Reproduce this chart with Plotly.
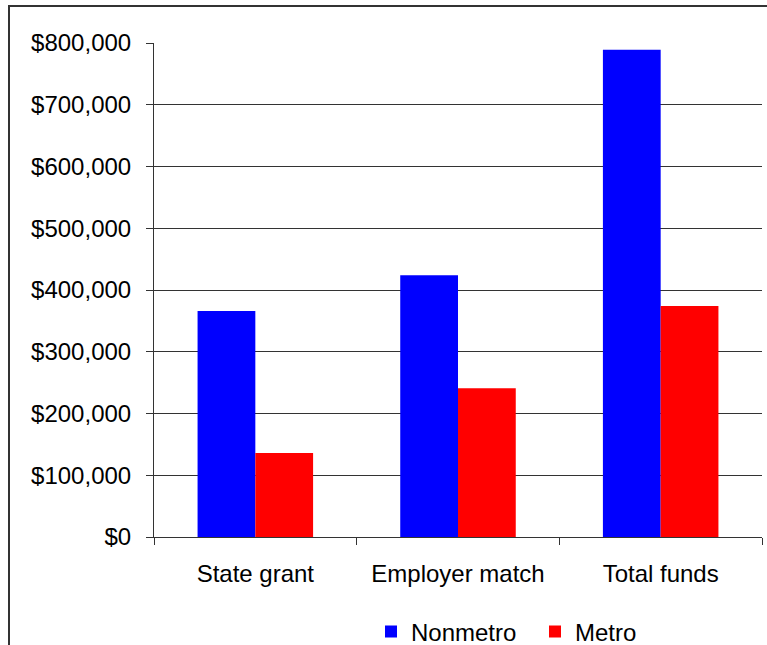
import plotly.graph_objects as go

categories = ["State grant", "Employer match", "Total funds"]
nonmetro = [366000, 424000, 789000]
metro = [136000, 241000, 374000]

W, H = 767, 645
L, R, T, B = 154, 5, 43, 645 - 537
pw, ph = W - L - R, H - T - B

fig = go.Figure()
fig.add_trace(go.Bar(name="Nonmetro", x=categories, y=nonmetro, marker=dict(color="#0000FF", line=dict(width=0))))
fig.add_trace(go.Bar(name="Metro", x=categories, y=metro, marker=dict(color="#FF0000", line=dict(width=0))))

font = "Liberation Sans, Arial, sans-serif"
fig.update_layout(
    width=W, height=H,
    margin=dict(l=L, r=R, t=T, b=B, pad=0, autoexpand=False),
    paper_bgcolor="white", plot_bgcolor="white",
    barmode="group", bargap=0.43, bargroupgap=0,
    font=dict(family=font, size=24, color="black"),
    showlegend=True,
    legend=dict(orientation="h", xref="container", yref="container",
                x=535 / W, xanchor="center", y=1 - 632 / H, yanchor="middle",
                font=dict(size=24), itemwidth=30, entrywidth=119, traceorder="normal",
                bgcolor="rgba(0,0,0,0)"),
)
fig.update_xaxes(
    showline=True, linecolor="#333", linewidth=1, automargin=False,
    ticks="outside", ticklen=7, tickcolor="#333", tickson="boundaries",
    showgrid=False, ticklabelstandoff=15,
)
fig.update_yaxes(
    range=[0, 800000], dtick=100000, tick0=0, automargin=False,
    tickprefix="$", tickformat=",d",
    showline=True, linecolor="#333", linewidth=1,
    ticks="outside", ticklen=7, tickcolor="#333",
    showgrid=True, gridcolor="#333", gridwidth=1, zeroline=False,
    ticklabelstandoff=10,
)
# outer frame
fig.add_shape(type="rect", xref="paper", yref="paper",
              x0=(9 - L) / pw, x1=(800 - L) / pw,
              y0=(537 - 700) / ph, y1=(537 - 6) / ph,
              line=dict(color="#333", width=2), fillcolor="rgba(0,0,0,0)", layer="below")

fig.write_html("out.html", config={"displayModeBar": False},
               post_script="document.body.style.margin='0';")
